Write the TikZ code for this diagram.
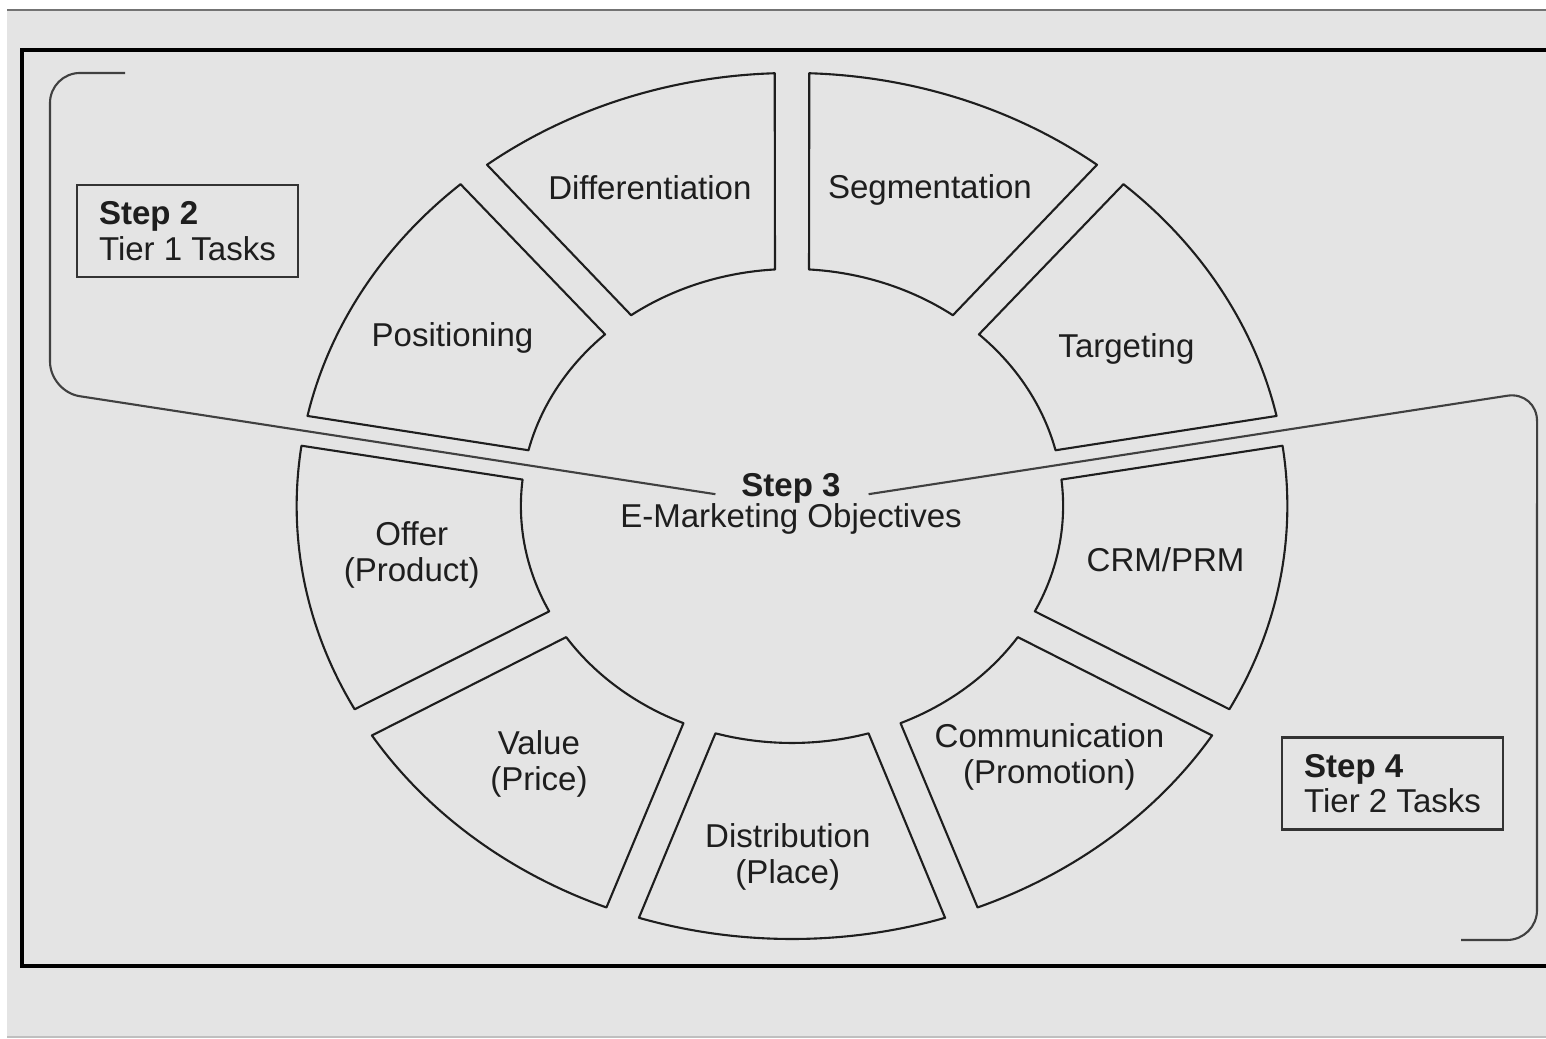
\documentclass[tikz,border=0pt]{standalone}
\usepackage{fontspec}
\setmainfont{Liberation Sans}

\definecolor{paper}{HTML}{E4E4E4}
\definecolor{ink}{HTML}{1E1E1E}

\begin{document}
\begin{tikzpicture}[x=0.1mm,y=0.1mm,
    every node/.style={font=\fontsize{9.4}{10.1}\selectfont, text=ink},
    segment/.style={draw=ink, line width=0.6pt, line join=round},
    bracket/.style={draw=black!75, line width=0.6pt, rounded corners=3mm},
    stepbox/.style={draw=black!80, line width=0.6pt, align=left,
                    minimum width=22.1mm, minimum height=9.2mm}]
\useasboundingbox (0,0) rectangle (1546,1039);
\fill[white] (0,0) rectangle (1546,1039);
\fill[paper] (7,2) rectangle (1546,1029);
\draw[black!55, line width=0.7pt] (7,1029) -- (1546,1029);
\draw[black!25, line width=0.4pt] (7,2) -- (1546,2);
% frame, open on the right
\draw[black, line width=1pt] (1546,989) -- (22,989) -- (22,73) -- (1546,73);

% the wheel: nine pieces of 40 degrees each
\begin{scope}[shift={(792,533)}, xscale=1.144]
  \foreach \a/\b/\t/\r/\txt in {90/130/111.3/342/Differentiation,
                          130/170/150.5/341/Positioning,
                          170/210/188.4/336/{Offer\\(Product)},
                          210/250/229.4/340/{Value\\(Price)},
                          250/290/269.4/351/{Distribution\\(Place)},
                          290/330/311.9/337/{Communication\\(Promotion)},
                          330/370/350.6/331/{CRM/PRM},
                          10/50/28.3/332/Targeting,
                          50/90/69.1/338/Segmentation}{
    \draw[segment] ({\a+2}:433) arc[start angle=\a+2, end angle=\b-2, radius=433]
      -- ({\b-3.6}:237) arc[start angle=\b-3.6, end angle=\a+3.6, radius=237] -- cycle;
    \node[align=center] (s\a) at (\t:\r) {\txt};
  }
  \coordinate (lin)  at (170:68);
  \coordinate (lout) at (170:658.6);
  \coordinate (rin)  at (10:68);
  \coordinate (rout) at (10:661.3);
\end{scope}

\node[align=center] (obj) at (791,535) {\textbf{Step 3}\\[-1.3pt]E-Marketing Objectives};

% tier brackets
\draw[bracket] (lin) -- (lout) -- (50,966) -- (125,966);
\draw[bracket] (rin) -- (rout) -- (1537,99) -- (1461,99);

\node[stepbox] (tier1) at (187.5,808) {\textbf{Step 2}\\Tier 1 Tasks};
\node[stepbox] (tier2) at (1392.5,255.5) {\textbf{Step 4}\\Tier 2 Tasks};
\end{tikzpicture}
\end{document}
